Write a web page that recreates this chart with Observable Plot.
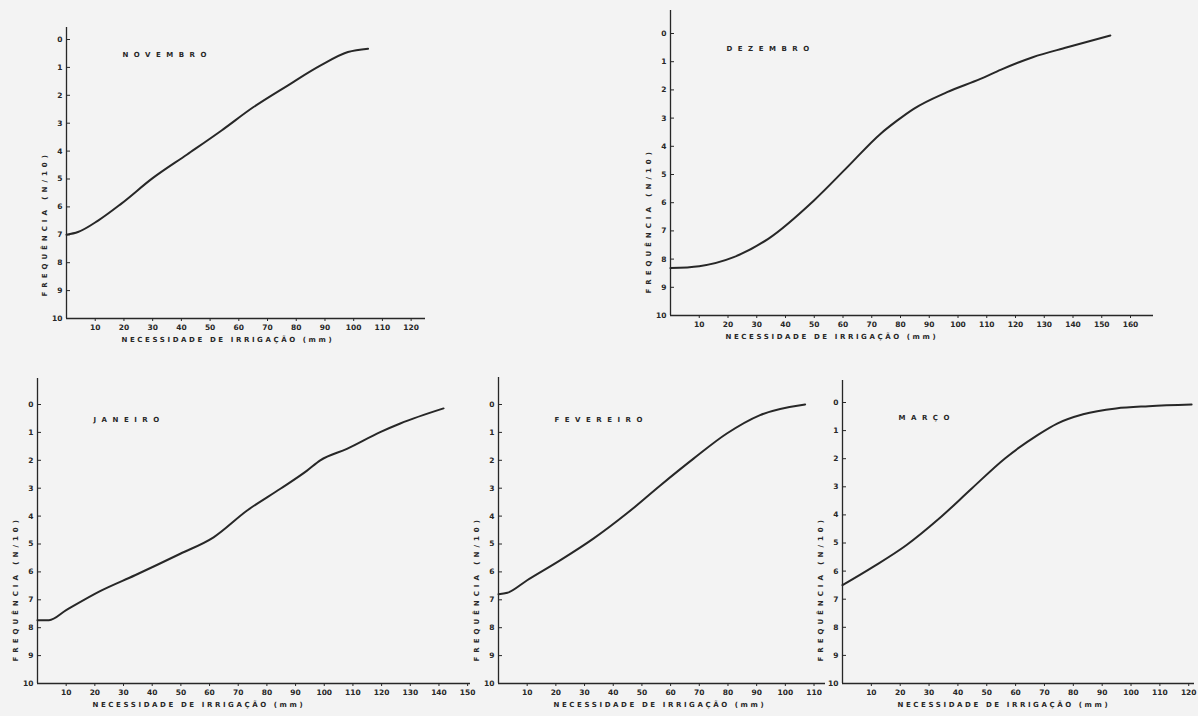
<!DOCTYPE html>
<html><head><meta charset="utf-8">
<script src="https://cdn.jsdelivr.net/npm/d3@7"></script>
<script src="https://cdn.jsdelivr.net/npm/@observablehq/plot@0.6"></script>
<style>
html,body{margin:0;padding:0;background:#f3f3f3;overflow:hidden}
#wrap{position:relative;width:1198px;height:716px}
#wrap svg{position:absolute}
</style></head><body><div id="wrap"></div>
<script>
// ---- data ----
const yTicks = [0,1,2,3,4,5,6,7,8,9,10];
const yLabel = "FREQUÊNCIA (N/10)";
const xLabel = "NECESSIDADE DE IRRIGAÇÃO (mm)";
const months = ["NOVEMBRO","DEZEMBRO","JANEIRO","FEVEREIRO","MARÇO"];

const novX = [0,4,11,19,30,42,54,65,77,88.5,98,105];
const novY = [7.0,6.9,6.49,5.89,4.97,4.12,3.26,2.43,1.65,0.93,0.45,0.33];
const novTicks = [10,20,30,40,50,60,70,80,90,100,110,120];

const dezX = [0,10,22,34,49.9,61.5,73,78.8,84.6,96.2,107.8,115,126,138,153];
const dezY = [8.32,8.25,7.93,7.28,5.92,4.74,3.56,3.09,2.67,2.08,1.61,1.28,0.84,0.49,0.07];
const dezTicks = [10,20,30,40,50,60,70,80,90,100,110,120,130,140,150,160];

const janX = [0,4,10,22,34,49.8,61.4,73.1,84.7,94,98.6,107.9,119.5,126.5,141.6];
const janY = [7.73,7.73,7.37,6.68,6.12,5.35,4.76,3.8,3.02,2.37,2.0,1.59,0.99,0.68,0.14];
const janTicks = [10,20,30,40,50,60,70,80,90,100,110,120,130,140,150];

const fevX = [0,3.1,10,21.6,33.2,44.8,56.4,68,79.6,91.2,106.9];
const fevY = [6.8,6.75,6.3,5.58,4.8,3.9,2.9,1.94,1.04,0.38,0.0];
const fevTicks = [10,20,30,40,50,60,70,80,90,100,110];

const marX = [0,10.6,22.1,33.5,44.8,56.3,67.6,74.4,83.4,94.8,106.1,121];
const marY = [6.5,5.85,5.08,4.13,3.06,1.99,1.16,0.75,0.42,0.21,0.13,0.07];
const marTicks = [10,20,30,40,50,60,70,80,90,100,110,120];

// ---- layout (page pixels) ----
const layouts = [
  {left:0,   top:0,   width:440, height:360, ox:66,  y0:39,  y10:318, xEnd:425,  xmax:125, ext:12},
  {left:600, top:0,   width:598, height:360, ox:670, y0:33,  y10:315, xEnd:1153, xmax:168, ext:23},
  {left:0,   top:370, width:480, height:346, ox:37,  y0:404, y10:683, xEnd:470,  xmax:151, ext:26},
  {left:460, top:370, width:380, height:346, ox:498, y0:404, y10:683, xEnd:825,  xmax:114, ext:27},
  {left:800, top:370, width:398, height:346, ox:842, y0:402, y10:683, xEnd:1194, xmax:122, ext:22}
];

const ink = "#272727";

function panel(title, xs, ys, xTicks, lay) {
  const data = xs.map((x, i) => ({x, y: ys[i]}));
  const svg = Plot.plot({
    width: lay.width, height: lay.height,
    marginLeft: lay.ox - lay.left,
    marginTop: lay.y0 - lay.top,
    marginBottom: lay.top + lay.height - lay.y10,
    marginRight: lay.left + lay.width - lay.xEnd,
    style: {background: "transparent", fontFamily: "'DejaVu Sans', sans-serif", fontSize: "7.5px", fontWeight: "bold", color: ink},
    x: {domain: [0, lay.xmax]},
    y: {domain: [0, 10], reverse: true},
    marks: [
      Plot.ruleY([10], {stroke: ink, strokeWidth: 1.3}),
      Plot.ruleX([0], {stroke: ink, strokeWidth: 1.3, insetTop: -lay.ext}),
      Plot.axisY({ticks: yTicks, tickSize: -4, tickPadding: 8, label: null, tickFormat: d => String(d)}),
      Plot.axisX({ticks: xTicks, tickSize: 3, tickPadding: 3, label: null, tickFormat: d => String(d)}),
      Plot.line(data, {x: "x", y: "y", curve: "monotone-x", stroke: ink, strokeWidth: 2}),
      Plot.text([title], {text: d => d, frameAnchor: "top-left", dx: 56, dy: 13, textAnchor: "start", fontSize: 7}),
      Plot.text([xLabel], {text: d => d, frameAnchor: "bottom-left", dx: 55, dy: 23, textAnchor: "start", fontSize: 7}),
      Plot.text([yLabel], {text: d => d, frameAnchor: "bottom-left", dx: -20, dy: -22, rotate: -90, textAnchor: "start", fontSize: 7})
    ]
  });
  svg.style.left = lay.left + "px";
  svg.style.top = lay.top + "px";
  const spacing = ["5.5px", "2.6px", "4px"];
  d3.select(svg).selectAll('g[aria-label="text"]').each(function(_, i) {
    d3.select(this).attr("letter-spacing", spacing[i]);
  });
  document.getElementById("wrap").appendChild(svg);
}

panel(months[0], novX, novY, novTicks, layouts[0]);
panel(months[1], dezX, dezY, dezTicks, layouts[1]);
panel(months[2], janX, janY, janTicks, layouts[2]);
panel(months[3], fevX, fevY, fevTicks, layouts[3]);
panel(months[4], marX, marY, marTicks, layouts[4]);
</script>
</body></html>
